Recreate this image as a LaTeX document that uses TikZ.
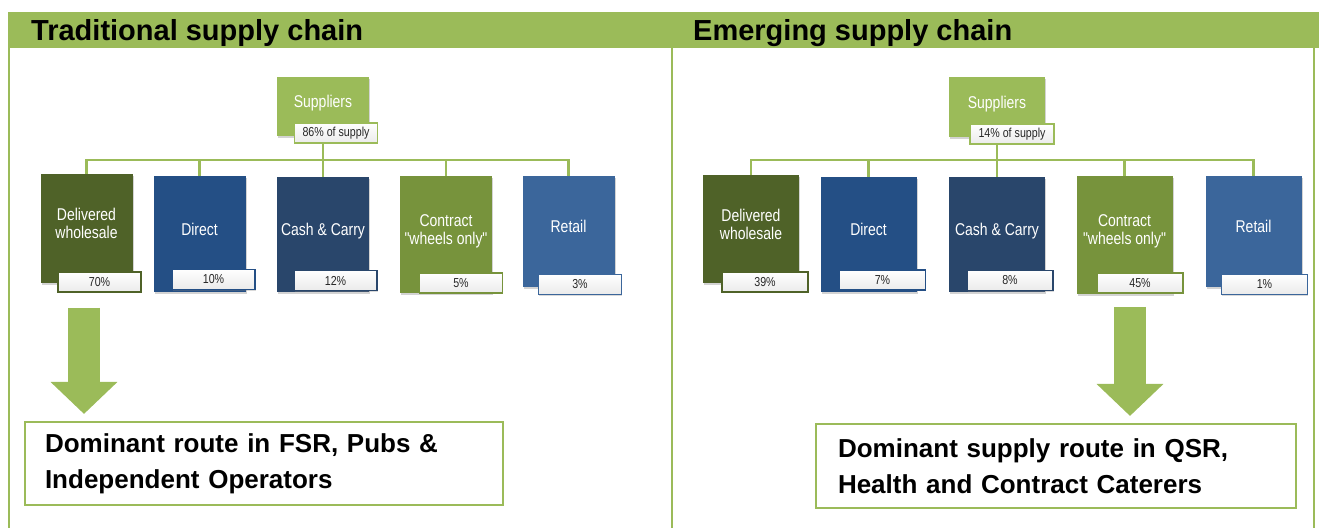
\documentclass[tikz,border=0pt]{standalone}
\usepackage{fontspec}
\setmainfont{Liberation Sans}
\newfontfamily\narrowsans[FakeStretch=0.82]{Liberation Sans}
\usetikzlibrary{arrows.meta, backgrounds, shadows}
\definecolor{chaingreen}{RGB}{155,187,89}
\definecolor{olivedark}{RGB}{79,98,40}
\definecolor{directblue}{RGB}{36,79,133}
\definecolor{navyblue}{RGB}{41,70,107}
\definecolor{contractgreen}{RGB}{119,147,60}
\definecolor{retailblue}{RGB}{59,102,155}

\begin{document}
\begin{tikzpicture}[
  chan/.style={minimum width=1.84cm, text=white, align=center, inner sep=1pt,
               font=\narrowsans\fontsize{9.7}{10.2}\selectfont,
               drop shadow={shadow xshift=0.6pt, shadow yshift=-1.2pt, opacity=0.35},
               execute at end node={\rule[-0.2cm]{0pt}{0pt}}},
  pct/.style={minimum width=1.66cm, minimum height=0.40cm, inner sep=0pt, line width=0.9pt,
              top color=white, bottom color=black!8, text=black!85,
              font=\narrowsans\fontsize{7.4}{8}\selectfont,
              drop shadow={shadow xshift=0.5pt, shadow yshift=-0.8pt, opacity=0.3}},
  link/.style={draw=chaingreen, line width=1.5pt},
  route/.style={draw=chaingreen, line width=1.2pt, align=left,
                font=\bfseries\fontsize{14.8}{20.5}\selectfont},
  bigarrow/.style={chaingreen, line width=0.64cm,
                   -{Triangle[width=1.3cm,length=0.64cm]}, shorten >=0.14cm},
  panel/.style={chaingreen, line width=1.2pt},
  title/.style={anchor=base west, font=\bfseries\fontsize{16.5}{19}\selectfont}]
  \useasboundingbox (0,0) rectangle (26.38,10.56);

  \fill[chaingreen] (0.16,9.60) rectangle (26.38,10.32);
  \draw[panel] (0.18,9.60) -- (0.18,0);
  \draw[panel] (13.44,9.60) -- (13.44,0);
  \draw[panel] (26.28,9.60) -- (26.28,0);
  \node[title] (trTitle) at (0.50,9.74) {Traditional supply chain};
  \node[title] (emTitle) at (13.74,9.74) {Emerging supply chain};

  \node[chan, fill=chaingreen, minimum height=1.18cm] (trSup) at (6.46,8.43) {Suppliers};
  \node[pct, draw=chaingreen] (trSupPct) at (6.72,7.90) {86\% of supply};
  \node[chan, fill=olivedark, minimum height=2.18cm] (trDel) at (1.73,5.99) {Delivered\\wholesale};
  \node[chan, fill=directblue, minimum height=2.32cm] (trDir) at (3.99,5.88) {Direct};
  \node[chan, fill=navyblue, minimum height=2.30cm] (trCash) at (6.46,5.87) {Cash \& Carry};
  \node[chan, fill=contractgreen, minimum height=2.34cm] (trCon) at (8.92,5.87) {Contract\\"wheels only"};
  \node[chan, fill=retailblue, minimum height=2.22cm] (trRet) at (11.37,5.93) {Retail};
  \node[pct, draw=olivedark] (trDelPct) at (1.99,4.92) {70\%};
  \node[pct, draw=directblue] (trDirPct) at (4.27,4.97) {10\%};
  \node[pct, draw=navyblue] (trCashPct) at (6.71,4.95) {12\%};
  \node[pct, draw=contractgreen] (trConPct) at (9.22,4.90) {5\%};
  \node[pct, draw=retailblue] (trRetPct) at (11.60,4.87) {3\%};

  \node[chan, fill=chaingreen, minimum width=1.92cm, minimum height=1.20cm] (emSup) at (19.94,8.42) {Suppliers};
  \node[pct, draw=chaingreen, minimum width=1.68cm] (emSupPct) at (20.24,7.88) {14\% of supply};
  \node[chan, fill=olivedark, minimum width=1.92cm, minimum height=2.16cm] (emDel) at (15.02,5.98) {Delivered\\wholesale};
  \node[chan, fill=directblue, minimum width=1.92cm, minimum height=2.30cm] (emDir) at (17.37,5.87) {Direct};
  \node[chan, fill=navyblue, minimum width=1.92cm, minimum height=2.30cm] (emCash) at (19.94,5.87) {Cash \& Carry};
  \node[chan, fill=contractgreen, minimum width=1.92cm, minimum height=2.36cm] (emCon) at (22.49,5.86) {Contract\\"wheels only"};
  \node[chan, fill=retailblue, minimum width=1.92cm, minimum height=2.22cm] (emRet) at (25.07,5.93) {Retail};
  \node[pct, draw=olivedark, minimum width=1.72cm] (emDelPct) at (15.30,4.92) {39\%};
  \node[pct, draw=directblue, minimum width=1.72cm] (emDirPct) at (17.65,4.96) {7\%};
  \node[pct, draw=navyblue, minimum width=1.72cm] (emCashPct) at (20.20,4.95) {8\%};
  \node[pct, draw=contractgreen, minimum width=1.72cm] (emConPct) at (22.80,4.90) {45\%};
  \node[pct, draw=retailblue, minimum width=1.72cm] (emRetPct) at (25.29,4.87) {1\%};

  \coordinate (trBus) at (6.46,7.36);
  \coordinate (emBus) at (19.94,7.36);
  \begin{scope}[on background layer]
    \draw[link] (trSup.south) -- (trBus)
      (trDel.north) |- (trBus) (trDir.north) |- (trBus) (trCash.north) |- (trBus)
      (trCon.north) |- (trBus) (trRet.north) |- (trBus);
    \draw[link] (emSup.south) -- (emBus)
      (emDel.north) |- (emBus) (emDir.north) |- (emBus) (emCash.north) |- (emBus)
      (emCon.north) |- (emBus) (emRet.north) |- (emBus);
  \end{scope}

  \node[route, text width=8.76cm, inner xsep=0.40cm, minimum height=1.66cm] (trRoute) at (5.28,1.29)
    {Dominant route in FSR, Pubs \&\\Independent Operators};
  \node[route, text width=8.72cm, inner xsep=0.44cm, minimum height=1.68cm] (emRoute) at (21.12,1.24)
    {Dominant supply route in QSR,\\Health and Contract Caterers};
  \coordinate (trDown) at (1.68,4.40);
  \coordinate (emDown) at (22.60,4.42);
  \draw[bigarrow] (trDown) -- (trDown |- trRoute.north);
  \draw[bigarrow] (emDown) -- (emDown |- emRoute.north);
\end{tikzpicture}
\end{document}
